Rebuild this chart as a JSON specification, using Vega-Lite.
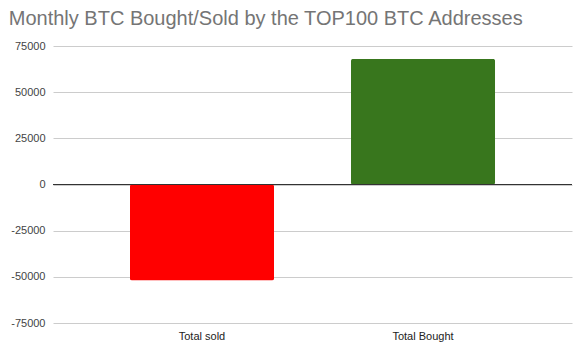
{
  "$schema": "https://vega.github.io/schema/vega-lite/v6.json",
  "autosize": "none",
  "width": 519,
  "height": 277,
  "padding": {"left": 53, "top": 46, "right": 14, "bottom": 30},
  "background": "white",
  "title": {
    "text": "Monthly BTC Bought/Sold by the TOP100 BTC Addresses",
    "anchor": "start",
    "font": "Liberation Sans",
    "fontSize": 20,
    "fontWeight": "normal",
    "color": "#757575",
    "dx": -2,
    "offset": 11
  },
  "config": {"view": {"stroke": null}},
  "data": {
    "values": [
      {"category": "Total sold", "value": -52000},
      {"category": "Total Bought", "value": 68000}
    ]
  },
  "layer": [
    {
      "mark": {"type": "bar", "cornerRadius": 2},
      "encoding": {
        "x": {
          "field": "category",
          "type": "nominal",
          "sort": null,
          "scale": {"paddingInner": 0.348, "paddingOuter": 0.348},
          "axis": {
            "title": null,
            "labelAngle": 0,
            "domain": false,
            "ticks": false,
            "labelPadding": 7,
            "labelFont": "Liberation Sans",
            "labelFontSize": 11,
            "labelColor": "#222"
          }
        },
        "y": {
          "field": "value",
          "type": "quantitative",
          "scale": {"domain": [-75000, 75000], "nice": false},
          "axis": {
            "title": null,
            "values": [-75000, -50000, -25000, 0, 25000, 50000, 75000],
            "labelExpr": "datum.value + ''",
            "domain": false,
            "ticks": false,
            "labelPadding": 8,
            "gridColor": "#cccccc",
            "labelFont": "Liberation Sans",
            "labelFontSize": 11,
            "labelColor": "#444"
          }
        },
        "color": {
          "field": "category",
          "type": "nominal",
          "scale": {"domain": ["Total sold", "Total Bought"], "range": ["#ff0000", "#38761d"]},
          "legend": null
        }
      }
    },
    {
      "data": {"values": [{"zero": 0}]},
      "mark": {"type": "rule", "color": "#333333", "strokeWidth": 1},
      "encoding": {"y": {"field": "zero", "type": "quantitative"}}
    }
  ]
}
